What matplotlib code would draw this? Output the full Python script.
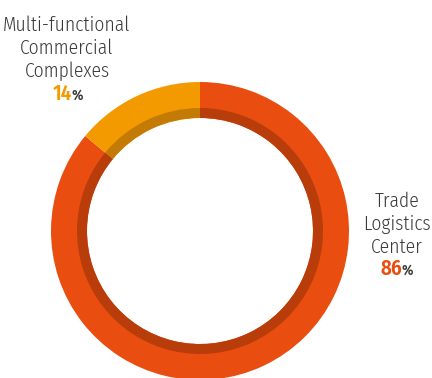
import matplotlib
matplotlib.use("Agg")
import matplotlib.pyplot as plt

# Data
labels = ["Trade\nLogistics\nCenter", "Multi-functional\nCommercial\nComplexes"]
shares = [86, 14]
colors = ["#E94E10", "#F39A00"]
shade_colors = ["#B93C0B", "#C47B05"]
text_gray = "#3A3A3A"

fonts = ["Fira Sans Condensed", "DejaVu Sans"]

W, H = 432, 378
fig = plt.figure(figsize=(W / 100, H / 100), dpi=100)
ax = fig.add_axes([0, 0, 1, 1])

cx, cy = 200, H - 231
r_out, r_in, r_shade = 149, 113, 123

# main ring
ax.pie(shares, colors=colors, startangle=90, counterclock=False,
       center=(cx, cy), radius=r_out,
       wedgeprops=dict(width=r_out - r_in, linewidth=0))
# darker inner band
ax.pie(shares, colors=shade_colors, startangle=90, counterclock=False,
       center=(cx, cy), radius=r_shade,
       wedgeprops=dict(width=r_shade - r_in, linewidth=0))

ax.set_xlim(0, W)
ax.set_ylim(0, H)
ax.set_aspect("equal")
ax.axis("off")

fs = 14
lbl = dict(ha="center", va="baseline", fontsize=fs, family=fonts,
           fontstretch="condensed", fontweight=300, color=text_gray,
           linespacing=1.22)
num = dict(va="baseline", fontsize=15, family=fonts, fontstretch="condensed",
           fontweight=600)
pct = dict(ha="left", va="baseline", fontsize=10.5, family=fonts,
           fontstretch="condensed", fontweight=600, color=text_gray)

# left label (14%)
ax.text(67, H - 77, labels[1], **lbl)
ax.text(72, H - 100, str(shares[1]), ha="right", color=colors[1], **num)
ax.text(71.5, H - 100, "%", **pct)

# right label (86%)
ax.text(397, H - 253, labels[0], **lbl)
ax.text(402, H - 275, str(shares[0]), ha="right", color=colors[0], **num)
ax.text(401.5, H - 275, "%", **pct)

fig.savefig("out.png", dpi=100)
